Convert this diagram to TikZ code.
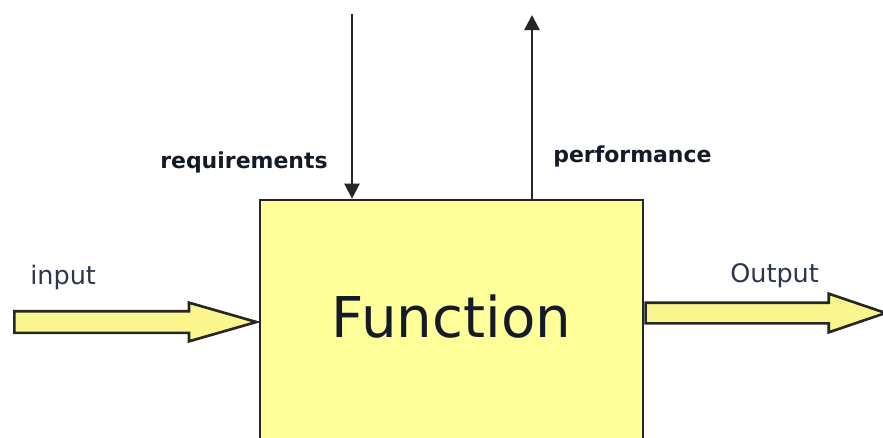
\documentclass[tikz,border=0pt]{standalone}
\usepackage{fontspec}
\setmainfont{DejaVu Sans}
\usepackage{tikz}
\usetikzlibrary{shapes.arrows,arrows.meta,positioning,calc}

\definecolor{boxyellow}{HTML}{FFFF99}
\definecolor{arrowyellow}{HTML}{FAF58C}
\definecolor{labelblue}{HTML}{2A3550}
\definecolor{labeldark}{HTML}{141A28}

\begin{document}
\begin{tikzpicture}[
        funcbox/.style={rectangle, draw=black!85, line width=1.5pt, fill=boxyellow, minimum width=7.66cm, minimum height=4.8cm, inner sep=0pt, text depth=0.16cm, font=\fontsize{32}{32}\selectfont, text=labeldark},
        flowarrow/.style={single arrow, draw=black!85, line width=1.5pt, fill=arrowyellow, inner xsep=0pt, minimum height=#1},
        ctrllabel/.style={font=\bfseries\fontsize{12.5}{12.5}\selectfont, text=labeldark, inner sep=0pt},
        flowlabel/.style={font=\fontsize{14.5}{14.5}\selectfont, text=labelblue, inner sep=0pt},
        arrow/.style={-{Triangle[width=0.3cm,length=0.3cm]}, line width=1.4pt, draw=black!85}
    ]

    \useasboundingbox (0,0) rectangle (17.66,-8.74);
    \clip (0,0) rectangle (17.66,-8.74);

    \node[funcbox] (func) at (9.03,-6.4) {Function};

    % block arrows in and out of the box
    \node[flowarrow=4.84cm, inner ysep=0.19cm, single arrow head extend=0.17cm, single arrow tip angle=32, anchor=tip] (inarrow) at ([xshift=0.05cm, yshift=-0.04cm]func.west) {};
    \node[flowarrow=4.80cm, inner ysep=0.18cm, single arrow head extend=0.18cm, single arrow tip angle=37.5, anchor=tail] (outarrow) at ([yshift=0.14cm]func.east) {};

    % control lines on top
    \coordinate (reqtop) at (7.04,-0.28);
    \coordinate (perftop) at (10.64,-0.30);
    \draw[arrow] (reqtop) -- (reqtop |- func.north);
    \draw[arrow] (perftop |- func.north) -- (perftop);

    \node[ctrllabel, anchor=east] (reqlabel) at (6.56,-3.24) {requirements};
    \node[ctrllabel, anchor=west] (perflabel) at (11.06,-3.12) {performance};
    \node[flowlabel, anchor=west] (inlabel) at (0.6,-5.54) {input};
    \node[flowlabel, anchor=west] (outlabel) at (14.6,-5.52) {Output};

\end{tikzpicture}
\end{document}
